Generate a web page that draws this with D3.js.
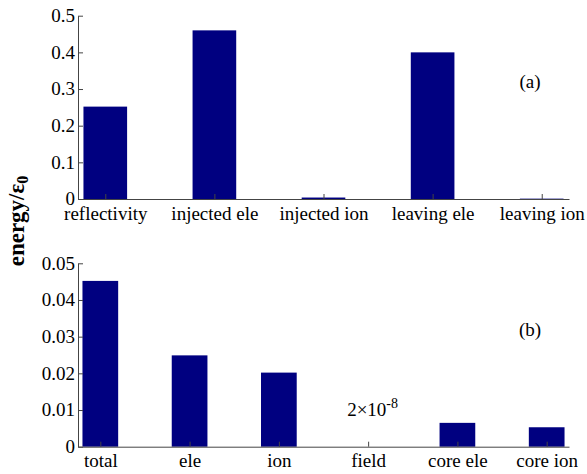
<!DOCTYPE html>
<html>
<head>
<meta charset="utf-8">
<script src="https://cdn.jsdelivr.net/npm/d3@7"></script>
<style>
  body { margin: 0; background: #fff; }
  text { font-family: "Liberation Serif", "Times New Roman", serif; }
</style>
</head>
<body>
<svg width="587" height="474"></svg>
<script>
// panel (a)
let catsA = ['reflectivity', 'injected ele', 'injected ion', 'leaving ele', 'leaving ion'];
let valsA = [0.252, 0.46, 0.004, 0.40, 0.001];
let ticksA = [0, 0.1, 0.2, 0.3, 0.4, 0.5];

// panel (b)
let catsB = ['total', 'ele', 'ion', 'field', 'core ele', 'core ion'];
let valsB = [0.0452, 0.0249, 0.0202, 2e-8, 0.0065, 0.0053];
let ticksB = [0, 0.01, 0.02, 0.03, 0.04, 0.05];

let svg = d3.select('svg');
let barColor = '#000080';
let axisColor = '#444';

function drawPanel(cats, vals, ticks, yMax, top, bottom, fmt, tag, tagY) {
    let left = 78, right = 569;

    let xScale = d3.scaleLinear()
        .domain([0.75, cats.length + 0.25])
        .range([left, right]);
    let yScale = d3.scaleLinear()
        .domain([0, yMax])
        .range([bottom, top]);

    let band = xScale(2) - xScale(1);
    let barW = band * 0.4;

    let g = svg.append('g');

    g.selectAll('.bar').data(vals).enter().append('rect')
        .attr('class', 'bar')
        .attr('x', (d, i) => xScale(i + 1) - barW / 2)
        .attr('y', d => yScale(d))
        .attr('width', barW)
        .attr('height', d => bottom - yScale(d))
        .attr('fill', barColor);

    // x axis (ticks point inward)
    let xAxis = d3.axisBottom(xScale)
        .tickValues(d3.range(1, cats.length + 1))
        .tickSizeInner(-5)
        .tickSizeOuter(0)
        .tickFormat((d, i) => cats[i]);
    let xg = g.append('g')
        .attr('transform', 'translate(0,' + bottom + ')')
        .call(xAxis);
    xg.select('.domain').attr('stroke', axisColor);
    xg.selectAll('.tick line').attr('stroke', axisColor);
    xg.selectAll('.tick text')
        .attr('y', 20.5)
        .attr('dy', 0)
        .attr('fill', '#000')
        .attr('font-size', '19px')
        .style('font-family', '"Liberation Serif", serif');

    // y axis
    let yAxis = d3.axisLeft(yScale)
        .tickValues(ticks)
        .tickSizeInner(-5)
        .tickSizeOuter(0)
        .tickFormat(fmt);
    let yg = g.append('g')
        .attr('transform', 'translate(' + left + ',0)')
        .call(yAxis);
    yg.select('.domain').attr('stroke', axisColor);
    yg.selectAll('.tick line').attr('stroke', axisColor);
    yg.selectAll('.tick text')
        .attr('x', -3)
        .attr('dy', '0.3em')
        .attr('fill', '#000')
        .attr('font-size', '19px')
        .style('font-family', '"Liberation Serif", serif');

    g.append('text')
        .attr('x', 530)
        .attr('y', tagY)
        .attr('text-anchor', 'middle')
        .attr('font-size', '19px')
        .text(tag);

    return { xScale: xScale, yScale: yScale };
}

let fmtA = d => d === 0 ? '0' : d3.format('.1f')(d);
let fmtB = d => d === 0 ? '0' : d3.format('.2f')(d);

drawPanel(catsA, valsA, ticksA, 0.5, 15.7, 199, fmtA, '(a)', 88);
let pb = drawPanel(catsB, valsB, ticksB, 0.05, 263.3, 446.7, fmtB, '(b)', 336);

// annotation above the tiny "field" bar
let note = svg.append('text')
    .attr('x', pb.xScale(4) - 21)
    .attr('y', 416)
    .attr('font-size', '19px');
note.append('tspan').text('2\u00d710');
note.append('tspan')
    .attr('dy', -8)
    .attr('font-size', '14px')
    .text('-8');

// shared y label
let yl = svg.append('text')
    .attr('transform', 'translate(24,221) rotate(-90)')
    .attr('text-anchor', 'middle')
    .attr('font-size', '23px')
    .attr('font-weight', 'bold');
yl.append('tspan').text('energy/\u03b5');
yl.append('tspan')
    .attr('font-size', '16px')
    .attr('dy', 4)
    .text('0');
</script>
</body>
</html>
